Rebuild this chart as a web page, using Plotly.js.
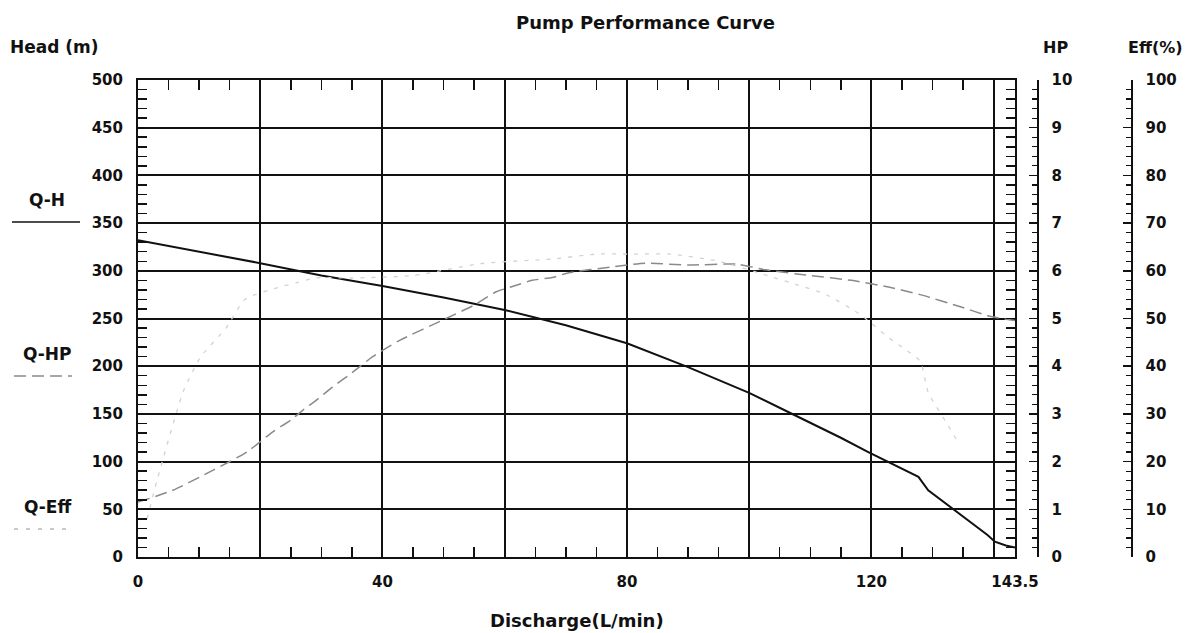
<!DOCTYPE html>
<html><head><meta charset="utf-8">
<script src="https://cdn.plot.ly/plotly-3.0.1.min.js"></script>
<style>html,body{margin:0;padding:0;background:#fff}</style>
</head><body><div id="chart" style="width:1191px;height:633px"></div>
<script>
// ---- data ----
const qhFlow = [0, 10, 20, 30, 40, 50, 60, 70, 80, 90, 100, 106.4, 110, 115, 119.5, 124, 127.7, 129.3, 132.6, 136, 139, 140.2, 142, 143.5];
const qhHead = [332, 320, 308, 295, 284, 272, 259, 243, 224, 199, 172, 152, 141, 125, 110, 96, 84, 70, 54, 38, 23, 16, 12, 10];

const hpFlow  = [0, 5.7, 12.3, 17.8, 22, 25, 27, 29.2, 31.8, 35, 38.4, 42.8, 50.4, 55, 58.6, 61, 64.5, 67.8, 70.5, 77.5, 83, 90, 98, 102.7, 110, 116.7, 122.8, 128, 134.7, 139.6, 143.5];
const hpPower = [1.15, 1.4, 1.82, 2.2, 2.62, 2.87, 3.08, 3.29, 3.56, 3.86, 4.2, 4.54, 5.0, 5.28, 5.56, 5.66, 5.8, 5.86, 5.96, 6.08, 6.16, 6.12, 6.14, 6.02, 5.9, 5.8, 5.66, 5.5, 5.24, 5.04, 4.96];

const effFlow = [1.5, 3.1, 7.5, 10.3, 14.4, 17.5, 22.9, 26, 29, 35, 45, 56, 68, 75, 81, 87, 95, 103, 108, 112.6, 118, 120, 122.8, 125, 128, 129.3, 132.6, 134.2];
const effPct  = [8, 16, 35, 42, 48, 54, 56.5, 57.5, 58.5, 58.5, 59, 61.5, 62.5, 63.5, 63.5, 63.5, 62, 59, 57, 55, 51, 49, 46, 44, 41, 34.5, 27.5, 24];

const xTickVals = [0, 20, 40, 60, 80, 100, 120, 140, 143.5];
const xTickText = ['0', '', '40', '', '80', '', '120', '', '143.5'];
const headTicks = [0, 50, 100, 150, 200, 250, 300, 350, 400, 450, 500];
const hpTicks = [0, 1, 2, 3, 4, 5, 6, 7, 8, 9, 10];
const effTicks = [0, 10, 20, 30, 40, 50, 60, 70, 80, 90, 100];

const chartTitle = 'Pump Performance Curve';
const headTitle = 'Head (m)';
const hpTitle = 'HP';
const effTitle = 'Eff(%)';
const xTitle = 'Discharge(L/min)';
const legendNames = ['Q-H', 'Q-HP', 'Q-Eff'];

// ---- layout helpers (pixel -> paper) ----
const L = 138, R = 1151, T = 80, B = 557;
const W = R - L, H = B - T;
const px = x => (x - L) / W;
const py = y => (B - y) / H;

const FONT = 'DejaVu Sans, Verdana, sans-serif';
const tickFont = {family: FONT, size: 15, color: '#111', weight: 'bold'};

const traces = [
  {x: qhFlow, y: qhHead, type: 'scatter', mode: 'lines', name: legendNames[0],
   line: {color: '#111', width: 2}, xaxis: 'x', yaxis: 'y'},
  {x: hpFlow, y: hpPower, type: 'scatter', mode: 'lines', name: legendNames[1],
   line: {color: '#8a8a8a', width: 1.5, dash: '12px,6px', shape: 'spline', smoothing: 0.6}, xaxis: 'x', yaxis: 'y2'},
  {x: effFlow, y: effPct, type: 'scatter', mode: 'lines', name: legendNames[2],
   line: {color: '#d2d2d2', width: 1.3, dash: '4px,7px', shape: 'spline', smoothing: 0.6}, xaxis: 'x', yaxis: 'y3'}
];

function ann(text, x, y, size, xanchor) {
  return {text: '<b>' + text + '</b>', xref: 'paper', yref: 'paper', x: px(x), y: py(y),
    xanchor: xanchor || 'center', yanchor: 'middle', showarrow: false,
    font: {family: FONT, size: size, color: '#111'}};
}

const layout = {
  width: 1191, height: 633,
  margin: {l: L, r: 1191 - R, t: T, b: 633 - B, pad: 0},
  paper_bgcolor: '#fff', plot_bgcolor: '#fff',
  showlegend: false,
  xaxis: {
    domain: [0, (1015 - L) / W], range: [0, 143.5],
    tickmode: 'array', tickvals: xTickVals, ticktext: xTickText,
    showgrid: true, gridcolor: '#111', gridwidth: 2, zeroline: false,
    showline: true, linecolor: '#111', linewidth: 2, mirror: 'ticks',
    ticks: 'inside', ticklen: 10, tickcolor: '#111', tickwidth: 1.5,
    minor: {tick0: 0, dtick: 5, ticks: 'inside', ticklen: 10, tickcolor: '#111', tickwidth: 1.5, showgrid: false},
    tickfont: tickFont, ticklabelstandoff: 10, fixedrange: true
  },
  yaxis: {
    range: [0, 500], tickmode: 'array', tickvals: headTicks,
    showgrid: true, gridcolor: '#111', gridwidth: 2, zeroline: false,
    showline: true, linecolor: '#111', linewidth: 2, mirror: 'ticks',
    ticks: 'inside', ticklen: 9, tickcolor: '#111', tickwidth: 1.5,
    minor: {tick0: 0, dtick: 10, ticks: 'inside', ticklen: 9, tickcolor: '#111', tickwidth: 1.5, showgrid: false},
    tickfont: tickFont, ticklabelstandoff: 10, fixedrange: true
  },
  yaxis2: {
    range: [0, 10], overlaying: 'y', anchor: 'free', side: 'right', position: px(1037),
    tickmode: 'array', tickvals: hpTicks, showgrid: false, zeroline: false,
    showline: true, linecolor: '#111', linewidth: 1.5,
    ticks: 'inside', ticklen: 8, tickcolor: '#111', tickwidth: 1.5,
    minor: {tick0: 0, dtick: 0.2, ticks: 'inside', ticklen: 5, tickcolor: '#111', tickwidth: 1.2},
    tickfont: tickFont, ticklabelstandoff: 10, fixedrange: true
  },
  yaxis3: {
    range: [0, 100], overlaying: 'y', anchor: 'free', side: 'right', position: px(1131),
    tickmode: 'array', tickvals: effTicks, showgrid: false, zeroline: false,
    showline: true, linecolor: '#111', linewidth: 1.5,
    ticks: 'inside', ticklen: 8, tickcolor: '#111', tickwidth: 1.5,
    minor: {tick0: 0, dtick: 2, ticks: 'inside', ticklen: 5, tickcolor: '#111', tickwidth: 1.2},
    tickfont: tickFont, ticklabelstandoff: 10, fixedrange: true
  },
  annotations: [
    ann(chartTitle, 645, 22, 18),
    ann(headTitle, 8, 47, 17, 'left'),
    ann(hpTitle, 1055, 47, 16),
    ann(effTitle, 1155, 47, 16),
    ann(xTitle, 577, 620, 18),
    ann(legendNames[0], 47, 200, 17),
    ann(legendNames[1], 47, 354, 17),
    ann(legendNames[2], 47, 507, 17)
  ],
  shapes: [
    {type: 'line', xref: 'paper', yref: 'paper', x0: px(12), x1: px(80), y0: py(222), y1: py(222),
     line: {color: '#111', width: 1.5}},
    {type: 'line', xref: 'paper', yref: 'paper', x0: px(14), x1: px(72), y0: py(376), y1: py(376),
     line: {color: '#8a8a8a', width: 1.5, dash: '12px,6px'}},
    {type: 'line', xref: 'paper', yref: 'paper', x0: px(14), x1: px(72), y0: py(529), y1: py(529),
     line: {color: '#b8b8b8', width: 1.5, dash: '4px,8px'}}
  ]
};

Plotly.newPlot('chart', traces, layout, {displayModeBar: false, staticPlot: true});
</script>
</body></html>
